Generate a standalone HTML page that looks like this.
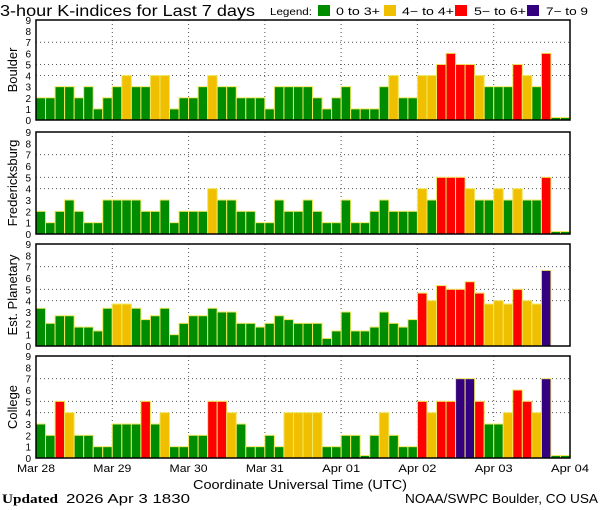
<!DOCTYPE html>
<html><head><meta charset="utf-8"><style>
html,body{margin:0;padding:0;background:#fff;}
svg{display:block;font-family:"Liberation Sans",sans-serif;}
</style></head><body>
<svg id="s" width="600" height="510" xmlns="http://www.w3.org/2000/svg">
<text x="0" y="16" font-size="16" fill="#000" textLength="255" lengthAdjust="spacingAndGlyphs">3-hour K-indices for Last 7 days</text>
<text x="270" y="15" font-size="10" fill="#000" textLength="42" lengthAdjust="spacingAndGlyphs">Legend:</text>
<rect x="318" y="5" width="12" height="11" fill="#008c00"/>
<text x="336" y="15" font-size="11" textLength="44" lengthAdjust="spacingAndGlyphs">0 to 3+</text>
<rect x="384" y="5" width="12" height="11" fill="#f0c000"/>
<text x="402" y="15" font-size="11" textLength="52" lengthAdjust="spacingAndGlyphs">4− to 4+</text>
<rect x="455" y="5" width="12" height="11" fill="#ff0000"/>
<text x="474" y="15" font-size="11" textLength="52" lengthAdjust="spacingAndGlyphs">5− to 6+</text>
<rect x="527" y="5" width="12" height="11" fill="#330080"/>
<text x="546" y="15" font-size="11" textLength="42" lengthAdjust="spacingAndGlyphs">7− to 9</text>
<g id="g"></g>
<g id="xl" font-size="11"></g>
<text x="193" y="489" font-size="13" textLength="214" lengthAdjust="spacingAndGlyphs">Coordinate Universal Time (UTC)</text>
<text x="2" y="503" font-size="13" font-family="Liberation Serif,serif" font-weight="bold" textLength="56" lengthAdjust="spacingAndGlyphs">Updated</text>
<text x="66" y="503" font-size="13" textLength="124" lengthAdjust="spacingAndGlyphs">2026 Apr  3 1830</text>
<text x="405" y="503" font-size="13" textLength="193" lengthAdjust="spacingAndGlyphs">NOAA/SWPC Boulder, CO USA</text>
</svg>
<script>
var P=[
["Boulder",20,120,[2,2,3,3,2,3,1,2, 3,4,3,3,4,4,1,2, 2,3,4,3,3,2,2,2, 1,3,3,3,3,2,1,2, 3,1,1,1,3,4,2,2, 4,4,5,6,5,5,4,3, 3,3,5,4,3,6,0.1,0.1]],
["Fredericksburg",132,234,[2,1,2,3,2,1,1,3, 3,3,3,2,2,3,1,2, 2,2,4,3,3,2,2,1, 1,3,2,2,3,2,1,1, 3,1,1,2,3,2,2,2, 4,3,5,5,5,4,3,3, 4,3,4,3,3,5,0.1,0.1]],
["Est. Planetary",244,346,[3.33,2,2.67,2.67,1.67,1.67,1.33,3.33, 3.7,3.7,3.33,2.33,2.67,3.33,1,2, 2.67,2.67,3.33,3,3,2,2,1.67, 2,2.67,2.33,2,2,2,0.67,1.33, 3,1.33,1.33,1.67,3,2,1.67,2.33, 4.67,4,5.33,5,5,5.67,4.67,3.7, 4,3.7,5,4,3.7,6.67,0,0]],
["College",356,458,[3,2,5,4,2,2,1,1, 3,3,3,5,3,4,1,1, 2,2,5,5,4,3,1,1, 2,1,4,4,4,4,1,1, 2,2,0.1,2,4,2,1,1, 5,4,5,5,7,7,5,3, 3,4,6,5,4,7,0.1,0.1]]
];
function col(v){return v>=6.67?"#330080":v>=4.67?"#ff0000":v>=3.67?"#f0c000":"#008c00";}
var x0=36,x1=570,bw=(x1-x0)/56,h="";
P.forEach(function(p){
 var t=p[1],b=p[2],u=(b-t)/9;
 h+='<text transform="translate(17,'+((t+b)/2)+') rotate(-90)" font-size="13" text-anchor="middle">'+p[0]+'</text>';
 for(var i=0;i<=9;i++)h+='<text x="31" y="'+(b-i*u+4)+'" font-size="10" text-anchor="end">'+i+'</text>';
 [4,5,7].forEach(function(k){h+='<line x1="'+x0+'" x2="'+x1+'" y1="'+(b-k*u)+'" y2="'+(b-k*u)+'" stroke="#555" stroke-dasharray="1,3"/>';});
 for(var d=1;d<7;d++){var x=x0+d*8*bw;h+='<line x1="'+x+'" x2="'+x+'" y1="'+t+'" y2="'+b+'" stroke="#555" stroke-dasharray="1,3"/>';}
 p[3].forEach(function(v,i){if(v<=0)return;var hh=Math.max(v*u,2.5);
  h+='<rect x="'+(x0+i*bw)+'" y="'+(b-hh)+'" width="'+bw+'" height="'+hh+'" fill="'+col(v)+'" stroke="#f0e860" stroke-width="1"/>';});
 h+='<rect x="'+x0+'" y="'+t+'" width="'+(x1-x0)+'" height="'+(b-t)+'" fill="none" stroke="#000" stroke-width="1.5"/>';
});
document.getElementById("g").innerHTML=h;
var L=["Mar 28","Mar 29","Mar 30","Mar 31","Apr 01","Apr 02","Apr 03","Apr 04"],s="";
L.forEach(function(l,i){var x=x0+i*8*bw;s+='<text x="'+(x-19)+'" y="472" textLength="38" lengthAdjust="spacingAndGlyphs">'+l+'</text>';});
document.getElementById("xl").innerHTML=s;
</script>
</body></html>
